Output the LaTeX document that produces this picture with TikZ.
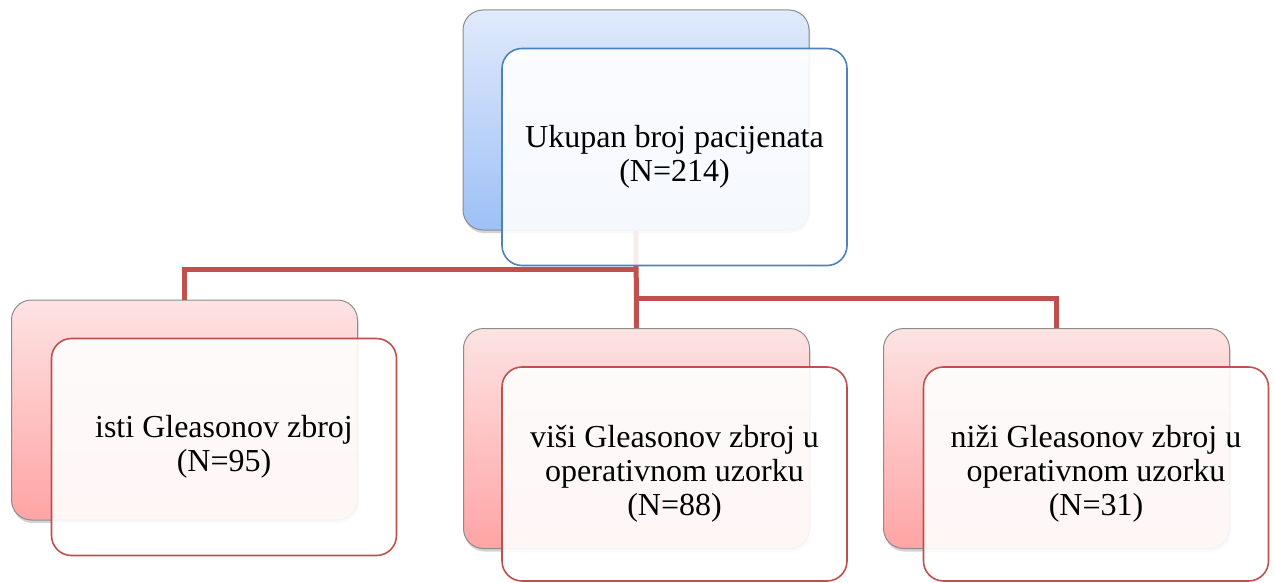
\documentclass[tikz,border=0pt]{standalone}
\usepackage{fontspec}
\setmainfont{Liberation Serif}
\usetikzlibrary{shadows}
\definecolor{bluetop}{HTML}{E0EAFB}
\definecolor{bluebot}{HTML}{9DC0F6}
\definecolor{redtop}{HTML}{FDE3E3}
\definecolor{redbot}{HTML}{FFA4A4}
\definecolor{blueline}{HTML}{4F81BD}
\definecolor{redline}{HTML}{C0504D}
\definecolor{backline}{HTML}{8C8C8C}
\tikzset{
  backbox/.style={draw=backline, line width=1pt, rounded corners=20pt,
    minimum width=346pt, minimum height=220pt, inner sep=0pt,
    drop shadow={opacity=0.35, shadow xshift=1pt, shadow yshift=-3pt}},
  bluebox/.style={backbox, top color=bluetop, bottom color=bluebot},
  redbox/.style={backbox, top color=redtop, bottom color=redbot},
  frontbox/.style={rounded corners=20pt, line width=1.6pt,
    minimum width=345pt, minimum height=217pt, inner sep=0pt,
    fill opacity=0.9, text opacity=1, align=center,
    font=\fontsize{32}{34}\selectfont},
  bluefront/.style={frontbox, draw=blueline, fill=white},
  redfront/.style={frontbox, draw=redline, fill=white},
  link/.style={draw=redline, line width=5pt}
}
\begin{document}
\begin{tikzpicture}[x=1pt,y=-1pt]
\useasboundingbox (0,0) rectangle (1275,583);
% back boxes
\node[bluebox] (topback) at (636,120) {};
\node[redbox] (leftback) at (184.5,410) {};
\node[redbox] (midback) at (636.5,438.5) {};
\node[redbox] (rightback) at (1056.5,438.5) {};
% connectors
\coordinate (j1) at (636,269);
\coordinate (j2) at (636,298);
\draw[link] (topback.south) -- (midback.north);
\draw[link] (j1) -| (leftback.north);
\draw[link] (j2) -| (rightback.north);
% front boxes
\node[bluefront] (topfront) at (674.5,157) {Ukupan broj pacijenata\\(N=214)};
\node[redfront] (leftfront) at (224,447) {isti Gleasonov zbroj\\(N=95)};
\node[redfront, minimum height=214pt] (midfront) at (674.5,474) {viši Gleasonov zbroj u\\operativnom uzorku\\(N=88)};
\node[redfront, minimum height=214pt] (rightfront) at (1096,474) {niži Gleasonov zbroj u\\operativnom uzorku\\(N=31)};
\end{tikzpicture}
\end{document}
